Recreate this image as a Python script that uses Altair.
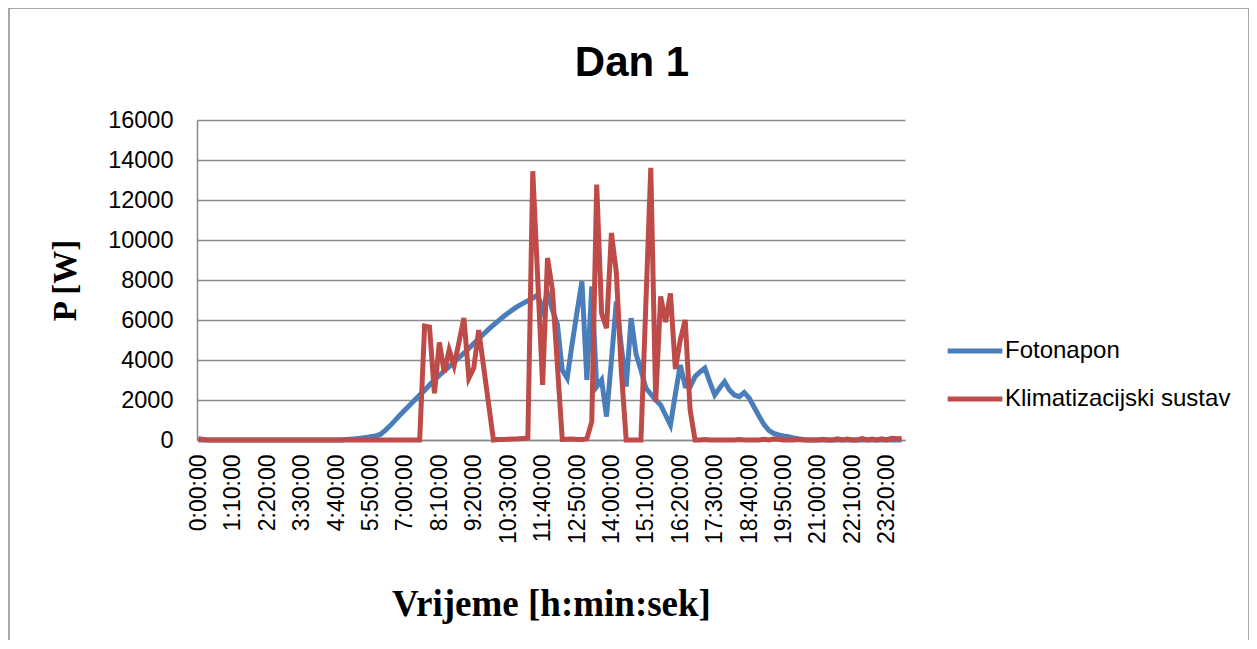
import altair as alt
import pandas as pd

# 10-minute steps over one day: step 0 = 0:00:00 ... step 143 = 23:50:00
step_index = list(range(144))
tick_steps = [0, 7, 14, 21, 28, 35, 42, 49, 56, 63, 70, 77, 84, 91, 98, 105, 112, 119, 126, 133, 140]
y_ticks = [0, 2000, 4000, 6000, 8000, 10000, 12000, 14000, 16000]
series_names = ["Fotonapon", "Klimatizacijski sustav"]
series_colors = ["#4A7EBB", "#BE4B48"]

fotonapon = [
    0, 0, 0, 0, 0, 0, 0, 0, 0, 0, 0, 0,
    0, 0, 0, 0, 0, 0, 0, 0, 0, 0, 0, 0,
    0, 0, 0, 0, 0, 0, 20, 40, 60, 90, 120, 160,
    200, 280, 480, 720, 980, 1250, 1500, 1750, 2000, 2250, 2480, 2750,
    3000, 3230, 3450, 3670, 3900, 4120, 4350, 4580, 4820, 5060, 5300, 5530,
    5750, 5960, 6160, 6350, 6530, 6690, 6830, 6960, 7100, 7250, 6510, 7350,
    6500, 5800, 3500, 3090, 4800, 6400, 7930, 3000, 7680, 2670, 3000, 1170,
    4000, 6930, 4700, 2670, 6090, 4300, 3500, 2600, 2300, 2000, 1750, 1250,
    750, 2300, 3750, 2700, 2650, 3170, 3400, 3590, 2900, 2250, 2600, 2920,
    2500, 2250, 2170, 2380, 2100, 1650, 1200, 780, 480, 330, 250, 200,
    160, 100, 60, 30, 0, 0, 0, 0, 0, 0, 0, 0,
    0, 0, 0, 0, 0, 0, 0, 0, 0, 0, 0, 0,
]

klimatizacija = [
    80, 20, 0, 0, 0, 0, 0, 0, 0, 0, 0, 0,
    0, 0, 0, 0, 0, 0, 0, 0, 0, 0, 0, 0,
    0, 0, 0, 0, 0, 0, 0, 0, 0, 0, 0, 0,
    0, 0, 0, 0, 0, 0, 0, 0, 0, 0, 5700, 5650,
    2340, 4880, 3380, 4500, 3720, 4900, 6100, 3090, 3600, 5500, 3670, 1830,
    0, 20, 30, 40, 50, 60, 80, 100, 13440, 8100, 2750, 9100,
    7500, 3750, 30, 40, 50, 30, 20, 60, 920, 12770, 6340, 5590,
    10350, 8350, 3500, 0, 0, 0, 0, 6800, 13610, 1920, 7180, 5900,
    7330, 3550, 5000, 6000, 1500, 0, 0, 20, 0, 0, 0, 0,
    0, 0, 30, 0, 0, 0, 0, 40, 0, 50, 40, 0,
    0, 0, 30, 0, 0, 0, 0, 40, 0, 0, 60, 0,
    50, 0, 0, 70, 0, 50, 0, 60, 0, 80, 60, 70,
]

df = pd.DataFrame({
    "step": step_index + step_index,
    "P": fotonapon + klimatizacija,
    "serija": [series_names[0]] * len(fotonapon) + [series_names[1]] * len(klimatizacija),
})

label_expr = ("floor(datum.value/6) + ':' + "
              "((datum.value % 6) == 0 ? '00' : toString((datum.value % 6) * 10)) + ':00'")

grid_gray = "#8A8A8A"

lines = alt.Chart(df).mark_line(strokeWidth=5).encode(
    x=alt.X(
        "step:Q",
        scale=alt.Scale(domain=[-0.285, 143.7], nice=False, zero=False),
        axis=alt.Axis(
            values=tick_steps,
            labelExpr=label_expr,
            labelAngle=270,
            labelFont="Liberation Sans",
            labelFontSize=23,
            labelColor="black",
            labelPadding=14,
            labelOverlap=False,
            ticks=False,
            grid=False,
            domainColor=grid_gray,
            domainWidth=1.5,
            title="Vrijeme [h:min:sek]",
            titleFont="Liberation Serif",
            titleFontSize=37,
            titleFontWeight="bold",
            titleColor="black",
            titleY=175,
            titleBaseline="alphabetic",
        ),
    ),
    y=alt.Y(
        "P:Q",
        scale=alt.Scale(domain=[0, 16000], nice=False),
        axis=alt.Axis(
            values=y_ticks,
            format="d",
            labelFont="Liberation Sans",
            labelFontSize=23.5,
            labelColor="black",
            labelPadding=24,
            ticks=False,
            grid=True,
            gridColor=grid_gray,
            gridWidth=1.5,
            domainColor=grid_gray,
            domainWidth=1.5,
            title="P [W]",
            titleFont="Liberation Serif",
            titleFontSize=33,
            titleFontWeight="bold",
            titleColor="black",
            titleAngle=270,
            titleX=-132,
            titleY=160,
            titleAlign="center",
            titleBaseline="middle",
        ),
    ),
    color=alt.Color(
        "serija:N",
        scale=alt.Scale(domain=series_names, range=series_colors),
        legend=alt.Legend(
            title=None,
            orient="none",
            legendX=748,
            legendY=201,
            symbolType="stroke",
            symbolStrokeWidth=5,
            symbolSize=3000,
            labelFont="Liberation Sans",
            labelFontSize=24,
            labelColor="black",
            labelOffset=0,
            labelLimit=0,
            rowPadding=6,
        ),
    ),
)

border = alt.Chart(pd.DataFrame({"b": [0]})).mark_rect(
    fillOpacity=0, stroke="#8C8C8C", strokeWidth=1.5
).encode(
    x=alt.value(-188), x2=alt.value(1052), y=alt.value(-112), y2=alt.value(540)
)

chart = alt.layer(border, lines).properties(
    width=708,
    height=320,
    padding={"left": 189, "top": 112, "right": 344, "bottom": 200},
    autosize=alt.AutoSizeParams(type="none"),
    title=alt.TitleParams(
        text="Dan 1",
        font="Liberation Sans",
        fontSize=42,
        fontWeight="bold",
        color="black",
        anchor="middle",
        frame="group",
        baseline="alphabetic",
        offset=-111,
        dx=81,
    ),
).configure_view(stroke=None)

chart.save("out.html", embed_options={"renderer": "svg", "actions": False})
